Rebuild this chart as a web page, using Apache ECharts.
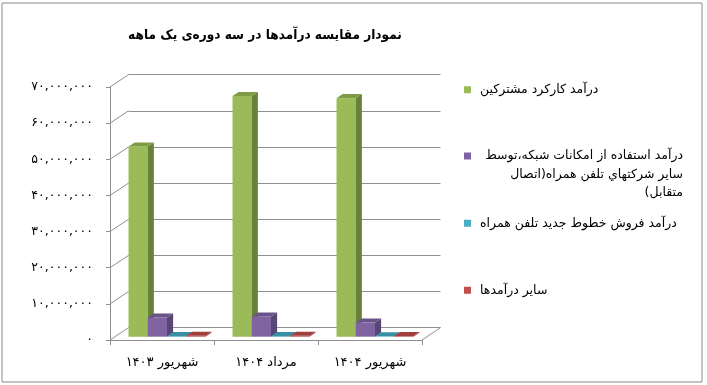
<!DOCTYPE html>
<html><head><meta charset="utf-8">
<script src="https://cdn.jsdelivr.net/npm/echarts@6/dist/echarts.min.js"></script>
<style>html,body{margin:0;padding:0;background:#fff}#main{width:707px;height:385px}</style>
</head><body><div id="main" dir="rtl"></div>
<script>
// ---- data ----
const titleText = 'نمودار مقایسه درآمدها در سه دوره‌ی یک ماهه';
const categories = ['شهریور ۱۴۰۳', 'مرداد ۱۴۰۴', 'شهریور ۱۴۰۴'];
const seriesNames = [
  'درآمد کارکرد مشترکین',
  'درآمد استفاده از امکانات شبکه،توسط سایر شرکتهاي تلفن همراه(اتصال متقابل)',
  'درآمد فروش خطوط جدید تلفن همراه',
  'سایر درآمدها'
];
const legendLines2 = ['درآمد استفاده از امکانات شبکه،توسط', 'سایر شرکتهاي تلفن همراه(اتصال', 'متقابل)'];
const subscriberRevenue = [52600000, 66600000, 66000000];
const interconnectRevenue = [5300000, 5600000, 3900000];
const newLineRevenue = [150000, 150000, 120000];
const otherRevenue = [250000, 250000, 200000];
const yTickValues = [0, 10000000, 20000000, 30000000, 40000000, 50000000, 60000000, 70000000];
const yTickLabels = ['۰', '۱۰,۰۰۰,۰۰۰', '۲۰,۰۰۰,۰۰۰', '۳۰,۰۰۰,۰۰۰', '۴۰,۰۰۰,۰۰۰', '۵۰,۰۰۰,۰۰۰', '۶۰,۰۰۰,۰۰۰', '۷۰,۰۰۰,۰۰۰'];

// ---- style ----
const FONT = 'DejaVu Sans';
const TITLE_FONT = '"DejaVu Sans Condensed", "DejaVu Sans"';
const DEPTH = [18.5, -12.3];
const BAR_D0 = 0.27, BAR_DL = 0.33;
const faceColors = [
  ['#9BBB59', '#7F9C45', '#67803A'],
  ['#8064A2', '#6A5389', '#584676'],
  ['#4BACC6', '#3A8FA6', '#2F7A8E'],
  ['#C0504D', '#A03E3B', '#8A3432']
];
const allSeries = [subscriberRevenue, interconnectRevenue, newLineRevenue, otherRevenue];
const GRID_COLOR = '#8f8f8f';

function barRenderer(k) {
  return function (params, api) {
    const idx = api.value(0), val = api.value(1);
    const base = api.coord([idx, 0]);
    const top = api.coord([idx, val]);
    const band = api.size([1, 0])[0];
    const bw = band * 0.185;
    const ox = DEPTH[0] * BAR_D0, oy = DEPTH[1] * BAR_D0;
    const dx = DEPTH[0] * BAR_DL, dy = DEPTH[1] * BAR_DL;
    const x0 = base[0] - 2 * bw + k * bw + ox, x1 = x0 + bw;
    const yb = base[1] + oy, yt = top[1] + oy;
    const c = faceColors[k];
    return {
      type: 'group',
      children: [
        { type: 'rect', shape: { x: x0, y: yt, width: bw, height: yb - yt }, style: { fill: c[0] } },
        { type: 'polygon', shape: { points: [[x1, yt], [x1 + dx, yt + dy], [x1 + dx, yb + dy], [x1, yb]] }, style: { fill: c[2] } },
        { type: 'polygon', shape: { points: [[x0, yt], [x1, yt], [x1 + dx, yt + dy], [x0 + dx, yt + dy]] }, style: { fill: c[1] } }
      ]
    };
  };
}

const chart = echarts.init(document.getElementById('main'), null, { renderer: 'canvas' });

const LH = 18.5;
const legendBase = {
  orient: 'vertical', left: 464, itemWidth: 7, itemHeight: 7, icon: 'rect', padding: 0,
  selectedMode: false, itemGap: 0,
  textStyle: { fontFamily: FONT, fontSize: 12.5, color: '#000', lineHeight: LH, padding: [0, 0, 0, 4] }
};

const option = {
  animation: false,
  backgroundColor: '#fff',
  title: {
    text: titleText, left: 260, top: 23, textAlign: 'center',
    textStyle: { fontFamily: TITLE_FONT, fontSize: 13.5, fontWeight: 'bold', color: '#000' }
  },
  graphic: [
    { type: 'rect', shape: { x: 2, y: 3, width: 700, height: 379 }, style: { fill: null, stroke: '#8a8a8a', lineWidth: 1 }, silent: true }
  ],
  legend: [
    Object.assign({}, legendBase, { top: 80.5, data: [seriesNames[0]] }),
    Object.assign({}, legendBase, {
      top: 156 - 2.5 * LH, data: [seriesNames[1]],
      formatter: () => '{e|}\n{e|}\n' + legendLines2.map(l => '{r|' + l + '}').join('\n'),
      textStyle: Object.assign({}, legendBase.textStyle, {
        rich: {
          r: { width: 203, align: 'right', fontFamily: FONT, fontSize: 12.5, lineHeight: LH, color: '#000' },
          e: { lineHeight: LH, fontSize: 12.5 }
        }
      })
    }),
    Object.assign({}, legendBase, { top: 214, data: [seriesNames[2]] }),
    Object.assign({}, legendBase, { top: 281, data: [seriesNames[3]] })
  ],
  grid: [
    { left: 110, top: 87, width: 312, height: 253 },
    { left: 128.5, top: 74.7, width: 312, height: 253 }
  ],
  xAxis: [
    {
      type: 'category', gridIndex: 0, data: categories,
      axisLine: { show: true, lineStyle: { color: GRID_COLOR } },
      axisTick: { show: true, length: 5, lineStyle: { color: GRID_COLOR } },
      axisLabel: { fontFamily: FONT, fontSize: 13, color: '#000', margin: 16 },
      splitLine: { show: false }
    },
    { type: 'category', gridIndex: 1, data: categories, show: false }
  ],
  yAxis: [
    {
      type: 'value', gridIndex: 0, min: 0, max: 70000000, interval: 10000000,
      axisLine: { show: true, lineStyle: { color: GRID_COLOR } },
      axisTick: { show: true, length: 4, lineStyle: { color: GRID_COLOR } },
      axisLabel: {
        fontFamily: FONT, fontSize: 12.5, color: '#000', margin: 17,
        formatter: v => yTickLabels[yTickValues.indexOf(v)]
      },
      splitLine: { show: false }
    },
    {
      type: 'value', gridIndex: 1, min: 0, max: 70000000, interval: 10000000,
      axisLine: { show: false }, axisTick: { show: false }, axisLabel: { show: false },
      splitLine: { show: true, lineStyle: { color: GRID_COLOR, width: 1 } }
    }
  ],
  series: [
    {
      type: 'custom', xAxisIndex: 0, yAxisIndex: 0, silent: true, z: 1,
      data: yTickValues.map(v => [0, v]),
      renderItem: function (params, api) {
        const cs = params.coordSys;
        const y = api.coord([0, api.value(1)])[1];
        const children = [
          { type: 'line', shape: { x1: cs.x, y1: y, x2: cs.x + DEPTH[0], y2: y + DEPTH[1] }, style: { stroke: GRID_COLOR, lineWidth: 1 } }
        ];
        if (api.value(1) === 0) {
          children.push({ type: 'line', shape: { x1: cs.x + cs.width, y1: y, x2: cs.x + cs.width + DEPTH[0], y2: y + DEPTH[1] }, style: { stroke: GRID_COLOR, lineWidth: 1 } });
        }
        return { type: 'group', children: children };
      }
    }
  ].concat(allSeries.map((arr, k) => ({
    name: seriesNames[k], type: 'custom', xAxisIndex: 0, yAxisIndex: 0, z: 2 + k,
    itemStyle: { color: faceColors[k][0] },
    data: arr.map((v, i) => [i, v]),
    renderItem: barRenderer(k)
  })))
};
chart.setOption(option);
</script></body></html>
